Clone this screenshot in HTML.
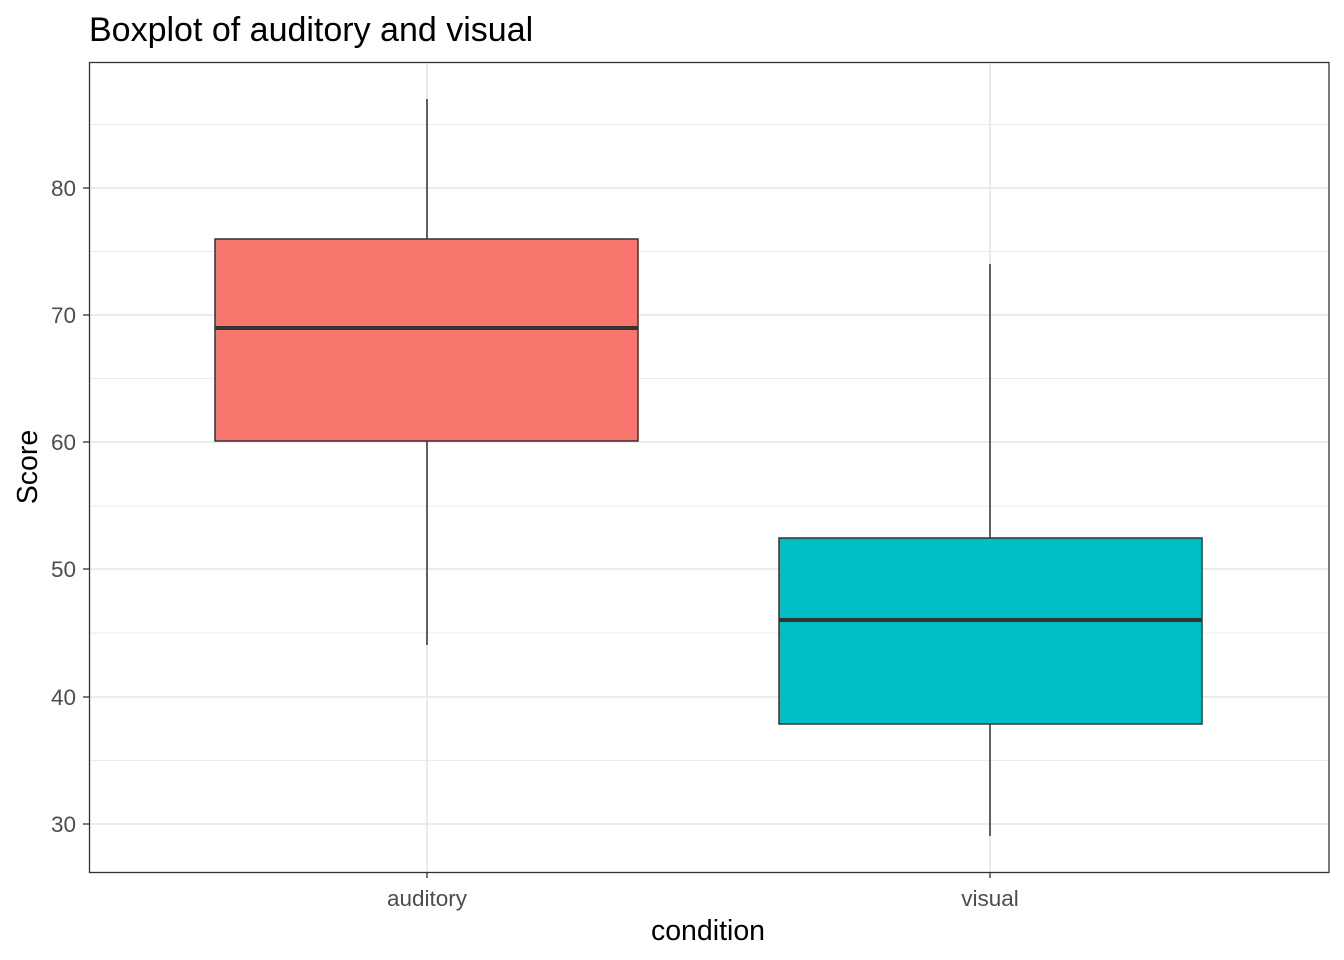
<!DOCTYPE html>
<html><head><meta charset="utf-8"><style>html,body{margin:0;padding:0;background:#fff}svg{display:block}</style></head>
<body>
<svg width="1344" height="960" xmlns="http://www.w3.org/2000/svg" font-family="Liberation Sans, Arial, sans-serif">
<rect width="1344" height="960" fill="#fff"/>
<g stroke="#ebebeb" stroke-width="1">
<line x1="89" x2="1329" y1="124.5" y2="124.5"/><line x1="89" x2="1329" y1="251.5" y2="251.5"/>
<line x1="89" x2="1329" y1="378.5" y2="378.5"/><line x1="89" x2="1329" y1="506" y2="506"/>
<line x1="89" x2="1329" y1="633" y2="633"/><line x1="89" x2="1329" y1="760.5" y2="760.5"/>
</g>
<g stroke="#ebebeb" stroke-width="2">
<line x1="89" x2="1329" y1="188" y2="188"/><line x1="89" x2="1329" y1="315" y2="315"/>
<line x1="89" x2="1329" y1="442" y2="442"/><line x1="89" x2="1329" y1="569" y2="569"/>
<line x1="89" x2="1329" y1="697" y2="697"/><line x1="89" x2="1329" y1="824" y2="824"/>
<line x1="427" x2="427" y1="62" y2="872"/><line x1="990" x2="990" y1="62" y2="872"/>
</g>
<g stroke="#333" stroke-width="1.5">
<line x1="427" x2="427" y1="99" y2="239"/><line x1="427" x2="427" y1="441" y2="645"/>
<line x1="990" x2="990" y1="264" y2="538"/><line x1="990" x2="990" y1="724" y2="836"/>
</g>
<rect x="215" y="239" width="423" height="202" fill="#F8766D" stroke="#333" stroke-width="1.5"/>
<line x1="215" x2="638" y1="328" y2="328" stroke="#333" stroke-width="4"/>
<rect x="779" y="538" width="423" height="186" fill="#00BFC4" stroke="#333" stroke-width="1.5"/>
<line x1="779" x2="1202" y1="620" y2="620" stroke="#333" stroke-width="4"/>
<rect x="89.5" y="62.5" width="1239.5" height="810" fill="none" stroke="#333" stroke-width="1.3"/>
<g stroke="#333" stroke-width="1.3">
<line x1="83" x2="89" y1="188" y2="188"/><line x1="83" x2="89" y1="315" y2="315"/>
<line x1="83" x2="89" y1="442" y2="442"/><line x1="83" x2="89" y1="569" y2="569"/>
<line x1="83" x2="89" y1="697" y2="697"/><line x1="83" x2="89" y1="824" y2="824"/>
<line x1="427" x2="427" y1="872" y2="878"/><line x1="990" x2="990" y1="872" y2="878"/>
</g>
<g fill="#4d4d4d" font-size="22.5" text-anchor="end">
<text x="76" y="196">80</text><text x="76" y="323">70</text><text x="76" y="450">60</text>
<text x="76" y="577">50</text><text x="76" y="705">40</text><text x="76" y="832">30</text>
</g>
<g fill="#4d4d4d" font-size="22.5" text-anchor="middle">
<text x="427" y="906">auditory</text><text x="990" y="906">visual</text>
</g>
<text x="708" y="940" font-size="28.5" text-anchor="middle" fill="#000">condition</text>
<text transform="translate(37,467) rotate(-90)" font-size="28.5" text-anchor="middle" fill="#000">Score</text>
<text x="89" y="41" font-size="34" fill="#000">Boxplot of auditory and visual</text>
</svg>
</body></html>
